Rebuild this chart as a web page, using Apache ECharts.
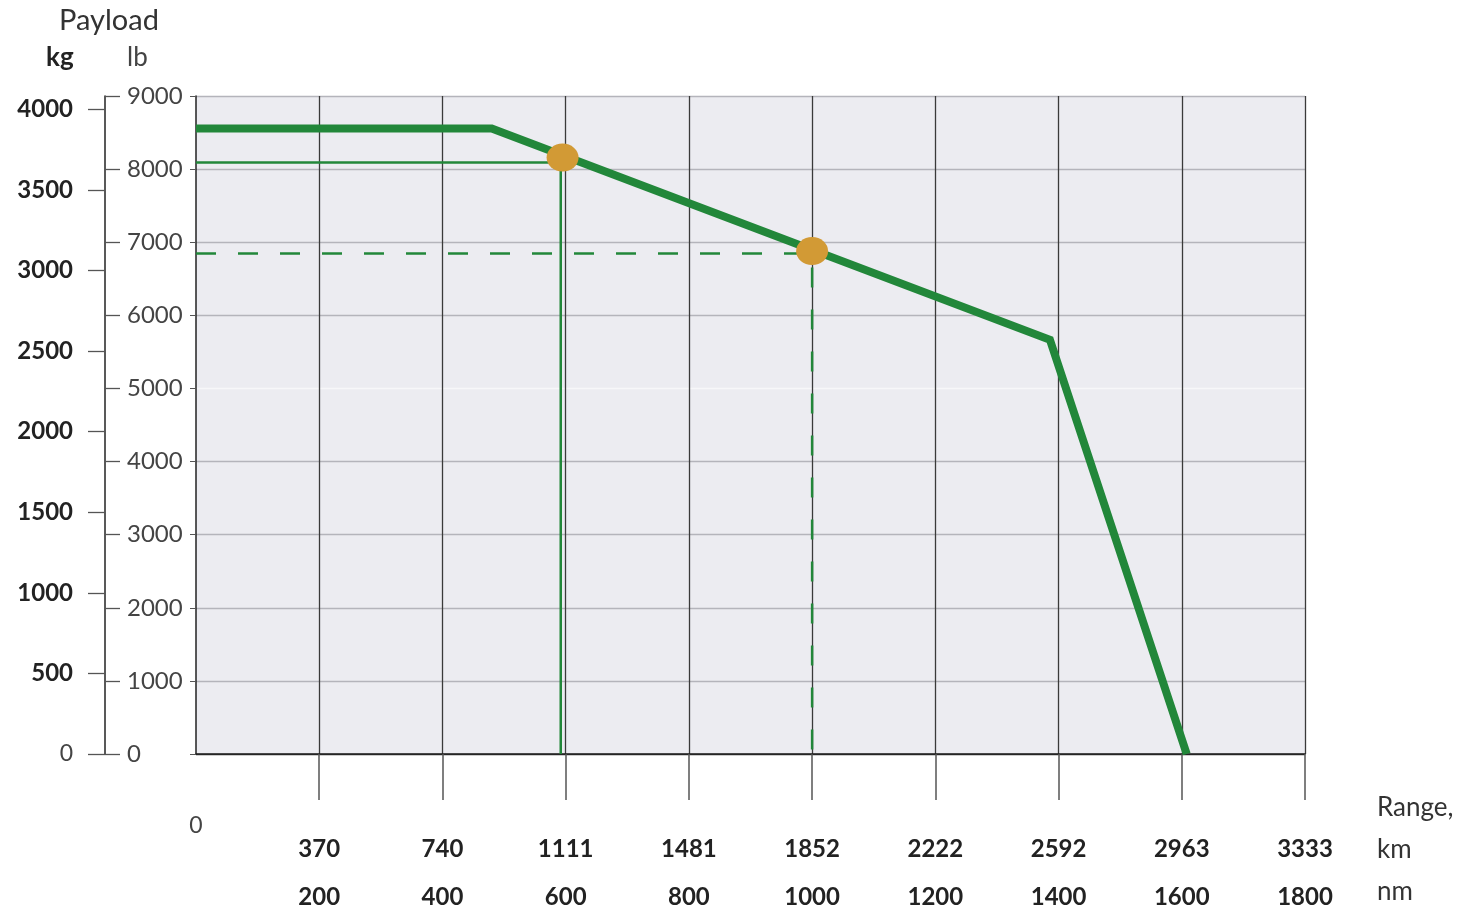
<!DOCTYPE html>
<html>
<head>
<meta charset="utf-8">
<script src="https://cdn.jsdelivr.net/npm/echarts@6/dist/echarts.min.js"></script>
<style>html,body{margin:0;padding:0;background:#fff}#c{width:1464px;height:911px}</style>
</head>
<body>
<div id="c"></div>
<script>
// ---- data ----
const nmTicks = [0, 200, 400, 600, 800, 1000, 1200, 1400, 1600, 1800];
const nmLabels = ['', '200', '400', '600', '800', '1000', '1200', '1400', '1600', '1800'];
const kmLabels = ['', '370', '740', '1111', '1481', '1852', '2222', '2592', '2963', '3333'];
const kgTicks = [0, 500, 1000, 1500, 2000, 2500, 3000, 3500, 4000];
const lbMax = 9000;
const kgMax = 4082.3; // 9000 lb in kg
const rangeNm = [0, 480, 1386, 1608];
const payloadKg = [3880, 3880, 2570, 0];
const pointNm = [595, 1000];
const pointKg = [3700, 3120];
const guideSolidNm = 592, guideSolidKg = 3670;
const guideDashNm = 1000, guideDashKg = 3105;

const FONT = 'Lato, "Open Sans", sans-serif';
const green = '#22873a';
const orange = '#d29a35';

const TOP = 96, BOTTOM = 157;
const gridRect = {left: 196, right: 159, top: TOP, bottom: BOTTOM};
const lbGridColors = ['#333', '#b4b4bb', '#b4b4bb', '#b4b4bb', '#b4b4bb', '#f7f7f9', '#b4b4bb', '#b4b4bb', '#b4b4bb', '#b4b4bb'];

const hiddenX = (gi) => ({gridIndex: gi, type: 'value', min: 0, max: 1800, show: false});

const chart = echarts.init(document.getElementById('c'));
chart.setOption({
  animation: false,
  textStyle: {fontFamily: FONT},
  grid: [
    Object.assign({show: true, backgroundColor: '#ececf1', borderWidth: 0}, gridRect),
    Object.assign({}, gridRect),
    Object.assign({}, gridRect),
    {left: 105, width: 1, top: TOP, bottom: BOTTOM}
  ],
  xAxis: [
    {
      gridIndex: 0, type: 'value', min: 0, max: 1800, interval: 200, position: 'bottom',
      axisLine: {show: true, onZero: false, lineStyle: {color: '#222', width: 1.5}},
      axisTick: {show: true, length: 46, customValues: nmTicks.slice(1), lineStyle: {color: '#555', width: 1.5}},
      splitLine: {show: true, lineStyle: {color: '#3a3a3a', width: 1.3}},
      axisLabel: {
        show: true, margin: 131, fontSize: 24, fontWeight: 'bold', color: '#222', fontFamily: FONT,
        formatter: v => nmLabels[nmTicks.indexOf(v)] || ''
      }
    },
    {
      gridIndex: 1, type: 'value', min: 0, max: 1800, interval: 200, position: 'bottom',
      axisLine: {show: false}, axisTick: {show: false}, splitLine: {show: false},
      axisLabel: {
        show: true, margin: 83, fontSize: 24, fontWeight: 'bold', color: '#222', fontFamily: FONT,
        formatter: v => kmLabels[nmTicks.indexOf(v)] || ''
      }
    },
    {
      gridIndex: 2, type: 'value', min: 0, max: 1800, interval: 200, position: 'bottom',
      axisLine: {show: false}, axisTick: {show: false}, splitLine: {show: false},
      axisLabel: {
        show: true, margin: 60, fontSize: 23, color: '#444', fontFamily: FONT,
        formatter: v => (v === 0 ? '0' : '')
      }
    },
    hiddenX(3)
  ],
  yAxis: [
    {
      gridIndex: 0, type: 'value', min: 0, max: lbMax, interval: 1000, position: 'left',
      axisLine: {show: true, lineStyle: {color: '#222', width: 1.5}},
      axisTick: {show: true, length: 6, lineStyle: {color: '#555'}},
      axisLabel: {show: false},
      splitLine: {show: true, lineStyle: {color: lbGridColors, width: 1.3}}
    },
    {
      gridIndex: 0, type: 'value', min: 0, max: kgMax, position: 'right', show: false
    },
    {gridIndex: 1, type: 'value', min: 0, max: lbMax, show: false},
    {gridIndex: 2, type: 'value', min: 0, max: lbMax, show: false},
    {
      gridIndex: 3, type: 'value', min: 0, max: lbMax, interval: 1000, position: 'right',
      axisLine: {show: true, lineStyle: {color: '#222', width: 1.5}},
      axisTick: {show: true, length: 15, lineStyle: {color: '#555', width: 1.3}},
      axisLabel: {show: true, margin: 21, fontSize: 24, color: '#444', fontFamily: FONT, formatter: v => String(v)},
      splitLine: {show: false}
    },
    {
      gridIndex: 3, type: 'value', min: 0, max: kgMax, position: 'left',
      axisLine: {show: false},
      axisTick: {show: true, length: 17, customValues: kgTicks, lineStyle: {color: '#555', width: 1.3}},
      axisLabel: {
        show: true, margin: 32, customValues: kgTicks, fontFamily: FONT,
        formatter: v => (v === 0 ? '{z|0}' : '{b|' + v + '}'),
        rich: {
          z: {fontSize: 23, color: '#444', fontFamily: FONT},
          b: {fontSize: 24, color: '#222', fontWeight: 'bold', fontFamily: FONT}
        }
      },
      splitLine: {show: false}
    }
  ],
  series: [
    {
      type: 'line', xAxisIndex: 0, yAxisIndex: 1, symbol: 'none', z: 3,
      lineStyle: {color: green, width: 2.5},
      data: [[0, guideSolidKg], [guideSolidNm, guideSolidKg], [guideSolidNm, 0]]
    },
    {
      type: 'line', xAxisIndex: 0, yAxisIndex: 1, symbol: 'none', z: 3,
      lineStyle: {color: green, width: 2.5, type: [20, 22]},
      data: [[0, guideDashKg], [guideDashNm, guideDashKg], [guideDashNm, 0]]
    },
    {
      type: 'line', xAxisIndex: 0, yAxisIndex: 1, symbol: 'none', z: 4,
      lineStyle: {color: green, width: 8, join: 'miter'},
      data: rangeNm.map((x, i) => [x, payloadKg[i]])
    },
    {
      type: 'scatter', xAxisIndex: 0, yAxisIndex: 1, z: 5,
      symbol: 'circle', symbolSize: [32, 28],
      itemStyle: {color: orange, opacity: 1},
      data: pointNm.map((x, i) => [x, pointKg[i]])
    }
  ],
  graphic: [
    {type: 'text', left: 59, top: 6, style: {text: 'Payload', fontSize: 29, fill: '#333', fontFamily: FONT}},
    {type: 'text', left: 46, top: 45, style: {text: 'kg', fontSize: 26, fontWeight: 'bold', fill: '#222', fontFamily: FONT}},
    {type: 'text', left: 127, top: 45, style: {text: 'lb', fontSize: 26, fill: '#444', fontFamily: FONT}},
    {type: 'text', left: 1377, top: 795, style: {text: 'Range,', fontSize: 26, fill: '#333', fontFamily: FONT}},
    {type: 'text', left: 1377, top: 837, style: {text: 'km', fontSize: 26, fill: '#333', fontFamily: FONT}},
    {type: 'text', left: 1377, top: 879, style: {text: 'nm', fontSize: 26, fill: '#333', fontFamily: FONT}}
  ]
});
</script>
</body>
</html>
